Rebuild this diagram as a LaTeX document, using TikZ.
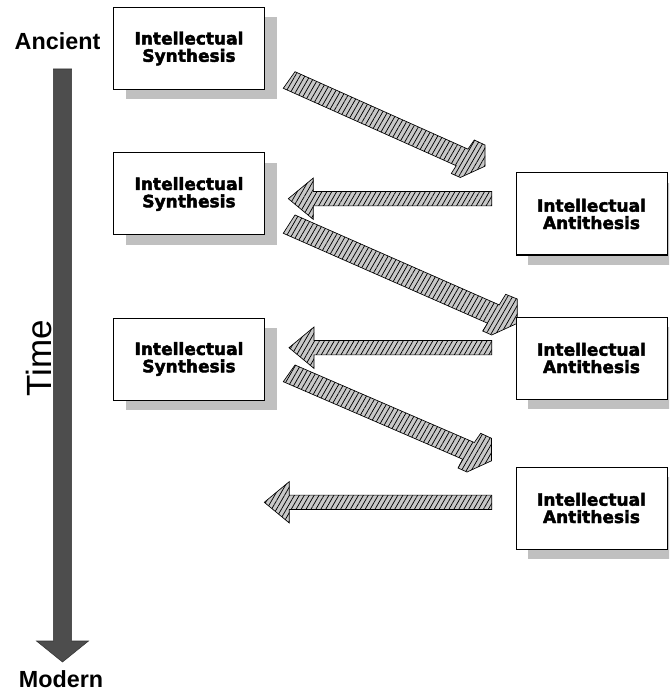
\documentclass[tikz,border=0pt]{standalone}
\usepackage{fontspec}
\setmainfont{Liberation Sans}
\newfontfamily\boxfont[FakeBold=2.5]{DejaVu Sans Bold}
\usetikzlibrary{patterns.meta,shadows}

\definecolor{timegray}{RGB}{77,77,77}
\definecolor{shadegray}{RGB}{192,192,192}
\definecolor{hatchgray}{RGB}{200,200,200}

\tikzset{
	idea/.style = {draw, line width = .75pt, fill = white, minimum width = 113.25pt, minimum height = 61.5pt, align = center,
		font = \boxfont\fontsize{12.75}{13}\selectfont,
		drop shadow = {shadow xshift = 9pt, shadow yshift = -7.5pt, fill = shadegray, opacity = 1}},
	hatch/.style = {draw, line width = .5pt, pattern = {Lines[angle = 60, distance = 3.2pt, line width = .55pt]}, preaction = {fill = hatchgray}},
	era/.style = {font = \bfseries\fontsize{17.5}{20}\selectfont},
	timebar/.style = {draw = black!80, line width = .4pt, fill = timegray}
}

\begin{document}
\begin{tikzpicture}[x = .75pt, y = -.75pt]
		\useasboundingbox (0,0) rectangle (669,698);
		\clip (0,0) rectangle (669,698);
		
		\node (Anc) at (57.5,50) [era, anchor = base] {Ancient};
		\node (Mod) at (61,687) [era, anchor = base] {Modern};
		\node (Time) at (51,358.5) [rotate = 90, anchor = base, font = \fontsize{26.25}{30}\selectfont] {Time};
		\draw [timebar] (53.3,69) -- (71.7,69) -- (71.7,641) -- (88.5,641) -- (62.5,662) -- (36.5,641) -- (53.3,641) -- cycle;
		
		\coordinate (d1) at (283.3,88.3);
		\coordinate (d2) at (283.3,233.3);
		\coordinate (d3) at (283.3,381.7);
		\coordinate (h1) at (491.7,198.7);
		\coordinate (h2) at (491.7,347.7);
		\coordinate (h3) at (491.7,502.3);
		
		\draw [hatch] (d1) -- (295,71.7) -- (467.9,149.1) -- (474.3,140) -- (485,145) -- (485,166.2) -- (460.3,177.5) -- (451.3,173.5) -- (456.2,165.7) -- cycle;
		\draw [hatch] (d2) -- (295,215) -- (499.2,304.9) -- (505.7,294.3) -- (517.3,299) -- (517.3,323.3) -- (491.7,335) -- (482.7,331) -- (487.5,323.2) -- cycle;
		\draw [hatch] (d3) -- (295,365) -- (474.3,442.5) -- (480.7,433.3) -- (491.5,438.3) -- (491.5,460.8) -- (467,472) -- (458,468) -- (462.6,459.2) -- cycle;
		
		\draw [hatch] (h1) ++(0,7.2) -- ++(-178.4,0) -- ++(0,13.5) -- ++(-25,-20.7) -- ++(25,-20.7) -- ++(0,13.5) -- ++(178.4,0) -- cycle;
		\draw [hatch] (h2) ++(0,7.2) -- ++(-177.7,0) -- ++(0,13.5) -- ++(-25,-20.7) -- ++(25,-20.7) -- ++(0,13.5) -- ++(177.7,0) -- cycle;
		\draw [hatch] (h3) ++(0,7.2) -- ++(-202.4,0) -- ++(0,13.5) -- ++(-25,-20.7) -- ++(25,-20.7) -- ++(0,13.5) -- ++(202.4,0) -- cycle;
		
		\node (S1) at (189,48.5) [idea] {Intellectual\\Synthesis};
		\node (S2) at (189,194) [idea] {Intellectual\\Synthesis};
		\node (S3) at (189,359) [idea] {Intellectual\\Synthesis};
		\node (A1) at (591.5,214) [idea] {Intellectual\\Antithesis};
		\node (A2) at (591.5,358) [idea] {Intellectual\\Antithesis};
		\node (A3) at (591.5,508) [idea] {Intellectual\\Antithesis};
\end{tikzpicture}
\end{document}
